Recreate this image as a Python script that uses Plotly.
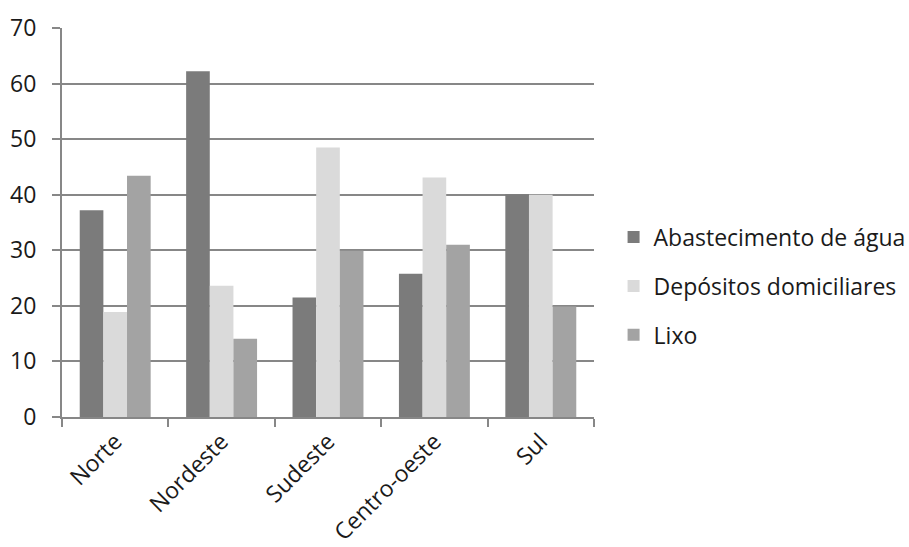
import plotly.graph_objects as go

regions = ["Norte", "Nordeste", "Sudeste", "Centro-oeste", "Sul"]
abastecimento = [37.2, 62.2, 21.5, 25.8, 40.1]
depositos = [18.9, 23.6, 48.5, 43.1, 40.0]
lixo = [43.4, 14.1, 29.9, 31.0, 19.9]

series = [
    ("Abastecimento de água", abastecimento, "#7b7b7b"),
    ("Depósitos domiciliares", depositos, "#dadada"),
    ("Lixo", lixo, "#a3a3a3"),
]

FONT = "Open Sans"
AXIS = "#878787"
TEXT = "#1a1a1a"
SIZE = 23

fig = go.Figure()
for i, (name, vals, color) in enumerate(series):
    fig.add_trace(go.Bar(
        x=regions, y=vals, name=name,
        marker=dict(color=color, line=dict(width=0)),
        legendgroup=f"g{i}",
    ))

fig.update_layout(
    width=909, height=547,
    margin=dict(l=62, r=315, t=28, b=130, autoexpand=False),
    paper_bgcolor="white", plot_bgcolor="white",
    barmode="group", bargap=1.5 / 4.5, bargroupgap=0,
    font=dict(family=FONT, size=SIZE, color=TEXT),
    showlegend=True,
    legend=dict(
        xref="container", yref="container",
        x=0.675, xanchor="left", y=0.477, yanchor="middle",
        font=dict(family=FONT, size=SIZE, color=TEXT),
        tracegroupgap=16, traceorder="grouped",
        bgcolor="rgba(0,0,0,0)",
    ),
)

fig.update_xaxes(
    type="category", tickangle=-45, automargin=False,
    showline=True, linecolor=AXIS, linewidth=2,
    ticks="outside", tickson="boundaries", ticklen=8, tickwidth=2, tickcolor=AXIS,
    showgrid=False,
    tickfont=dict(family=FONT, size=SIZE, color=TEXT),
)
fig.update_yaxes(
    range=[0, 70], dtick=10, tick0=0, automargin=False,
    showline=True, linecolor=AXIS, linewidth=2,
    ticks="outside", ticklen=8, tickwidth=2, tickcolor=AXIS,
    showgrid=True, gridcolor=AXIS, gridwidth=2,
    zeroline=False, ticklabelstandoff=11,
    tickfont=dict(family=FONT, size=SIZE, color=TEXT),
)

fig.write_html("out.html")
